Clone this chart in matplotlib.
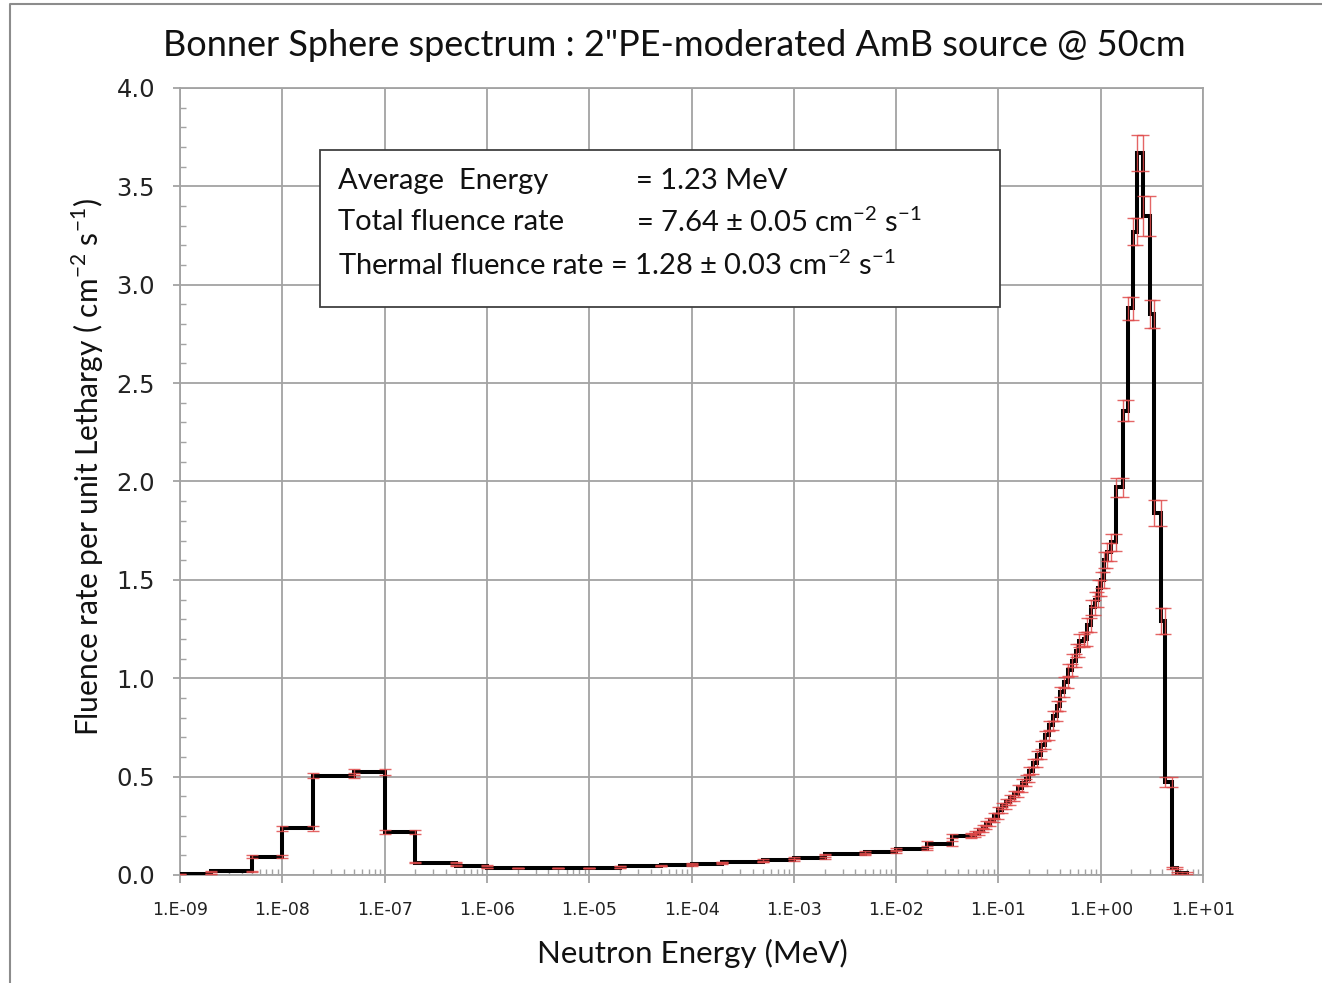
import numpy as np
import matplotlib
matplotlib.use("Agg")
import matplotlib.pyplot as plt
from matplotlib.patches import Rectangle
from matplotlib.lines import Line2D
from matplotlib.ticker import FixedLocator, MultipleLocator, LogLocator, NullFormatter

# ── Data ─────────────────────────────────────────────────────────────────────
# bin edges in MeV
EDGES = [
    1e-9, 2e-9, 5e-9, 1e-8, 2e-8, 5e-8, 1e-7, 2e-7, 5e-7, 1e-6, 2e-6, 5e-6,
    1e-5, 2e-5, 5e-5, 1e-4, 2e-4, 5e-4, 1e-3, 2e-3, 5e-3, 1e-2, 2e-2, 0.035,
    0.054, 0.059, 0.064, 0.07, 0.076, 0.083, 0.091, 0.1, 0.109, 0.119, 0.13,
    0.142, 0.155, 0.17, 0.185, 0.2, 0.22, 0.24, 0.26, 0.285, 0.31, 0.34, 0.37,
    0.4, 0.44, 0.48, 0.52, 0.57, 0.62, 0.68, 0.74, 0.81, 0.88, 0.94, 1.0,
    1.08, 1.16, 1.25, 1.4, 1.65, 1.85, 2.05, 2.25, 2.6, 3.05, 3.35, 3.9,
    4.25, 5.0, 5.6, 6.9,
]

# fluence rate per unit lethargy in each bin
FLUENCE = [
    0.005, 0.018, 0.093, 0.237, 0.505, 0.525, 0.22, 0.063, 0.048, 0.037,
    0.036, 0.036, 0.037, 0.046, 0.050, 0.057, 0.066, 0.076, 0.086, 0.105,
    0.116, 0.131, 0.160, 0.198,
    0.205, 0.215, 0.23, 0.245, 0.26, 0.28, 0.30, 0.33, 0.35, 0.37, 0.39,
    0.41, 0.44, 0.47, 0.49, 0.53, 0.57, 0.61, 0.66, 0.71, 0.76, 0.81, 0.86,
    0.93, 0.98, 1.04, 1.09, 1.14, 1.19, 1.20, 1.27, 1.36, 1.40, 1.46,
    1.50, 1.60, 1.64, 1.69, 1.97, 2.36, 2.88, 3.27, 3.67, 3.35, 2.85, 1.84,
    1.29, 0.474, 0.034, 0.01,
]

ERRORS = [
    0.002, 0.003, 0.008, 0.012, 0.012, 0.015, 0.010, 0.003, 0.002, 0.001,
    0.001, 0.001, 0.001, 0.002, 0.002, 0.002, 0.002, 0.003, 0.003, 0.004,
    0.005, 0.006, 0.012, 0.012,
    0.010, 0.010, 0.011, 0.011, 0.012, 0.012, 0.013, 0.014, 0.014, 0.015,
    0.015, 0.016, 0.017, 0.018, 0.018, 0.019, 0.020, 0.021, 0.022, 0.023,
    0.024, 0.025, 0.026, 0.027, 0.028, 0.030, 0.031, 0.032, 0.033, 0.034,
    0.035, 0.037, 0.038, 0.040,
    0.040, 0.042, 0.045, 0.045, 0.050, 0.055, 0.060, 0.070, 0.090, 0.100,
    0.070, 0.065, 0.065, 0.025, 0.005, 0.003,
]

XTICKS = [1e-9, 1e-8, 1e-7, 1e-6, 1e-5, 1e-4, 1e-3, 1e-2, 1e-1, 1e0, 1e1]
XTICK_LABELS = ["1.E-09", "1.E-08", "1.E-07", "1.E-06", "1.E-05", "1.E-04",
                "1.E-03", "1.E-02", "1.E-01", "1.E+00", "1.E+01"]

# ── Figure ───────────────────────────────────────────────────────────────────
W, H = 1322, 983
TXT_FONT = ["Lato", "DejaVu Sans"]
GRID_C = "#a3a3a3"
ERR_C = "#e04a4a"


def fx(px):
    return px / W


def fy(py):
    return 1 - py / H


fig = plt.figure(figsize=(W / 100, H / 100), dpi=100)
fig.patch.set_facecolor("white")
ax = fig.add_axes([fx(180), fy(875), (1203 - 180) / W, (875 - 88) / H])

edges = np.array(EDGES)
vals = np.array(FLUENCE)
errs = np.array(ERRORS)

ax.stairs(vals, edges, color="black", lw=2.9, baseline=0, zorder=3)

# error bars sit on both ends of every bin
xs = np.concatenate([edges[:-1], edges[1:]])
ax.errorbar(xs, np.tile(vals, 2), yerr=np.tile(errs, 2), fmt="none",
            ecolor=ERR_C, elinewidth=1.0, capsize=4, capthick=1.0,
            alpha=0.85, zorder=4)

ax.set_xscale("log")
ax.set_xlim(1e-9, 1e1)
ax.set_ylim(0, 4.0)

ax.xaxis.set_major_locator(FixedLocator(XTICKS))
ax.set_xticklabels(XTICK_LABELS)
ax.xaxis.set_minor_locator(LogLocator(base=10, subs=np.arange(2, 10), numticks=20))
ax.xaxis.set_minor_formatter(NullFormatter())
ax.yaxis.set_major_locator(MultipleLocator(0.5))
ax.yaxis.set_minor_locator(MultipleLocator(0.1))
ax.yaxis.set_major_formatter(plt.FuncFormatter(lambda v, _: f"{v:.1f}"))

ax.grid(which="major", color=GRID_C, lw=1.3)
ax.set_axisbelow(True)
for s in ax.spines.values():
    s.set_color(GRID_C)
    s.set_linewidth(1.3)

ax.tick_params(axis="x", which="major", direction="out", length=6, width=1.3,
               color=GRID_C, labelsize=12.5, pad=13, labelcolor="#222222")
ax.tick_params(axis="x", which="minor", direction="in", length=4, width=1.0,
               color=GRID_C)
ax.tick_params(axis="y", which="major", direction="out", length=5, width=1.3,
               color=GRID_C, labelsize=17.5, pad=13, labelcolor="#222222")
ax.tick_params(axis="y", which="minor", direction="in", length=4, width=1.0,
               color=GRID_C)

# titles and axis labels
fig.text(fx(674), fy(45), "Bonner Sphere spectrum : 2\"PE-moderated AmB source @ 50cm",
         ha="center", va="center", fontsize=26, family=TXT_FONT, color="#111111")
fig.text(fx(692), fy(953), "Neutron Energy (MeV)", ha="center", va="center",
         fontsize=22.5, family=TXT_FONT, color="#111111")
fig.text(fx(88), fy(467),
         r"Fluence rate per unit Lethargy ( cm$^{\mathregular{-2}}$ s$^{\mathregular{-1}}$)",
         ha="center", va="center", rotation=90, fontsize=21.5, family=TXT_FONT,
         color="#111111")

# info box
fig.add_artist(Rectangle((fx(320), fy(307)), (1000 - 320) / W, (307 - 150) / H,
                         transform=fig.transFigure, facecolor="white",
                         edgecolor="#404040", lw=1.3, zorder=4))
box_kw = dict(ha="left", va="center", fontsize=21, family=TXT_FONT,
              color="#111111", zorder=5)
unit = r"cm$^{\mathregular{-2}}$ s$^{\mathregular{-1}}$"
fig.text(fx(338), fy(181), "Average  Energy", **box_kw)
fig.text(fx(636), fy(181), "= 1.23 MeV", **box_kw)
fig.text(fx(338), fy(222), "Total fluence rate", **box_kw)
fig.text(fx(636), fy(222), "= 7.64 \u00b1 0.05 " + unit, **box_kw)
fig.text(fx(338), fy(265), "Thermal fluence rate = 1.28 \u00b1 0.03 " + unit, **box_kw)

# outer frame of the original screenshot
fig.add_artist(Line2D([fx(10), fx(10), 1], [0, fy(4), fy(4)],
                      transform=fig.transFigure, color="#8c8c8c", lw=1.5))

fig.savefig("out.png", dpi=100)
